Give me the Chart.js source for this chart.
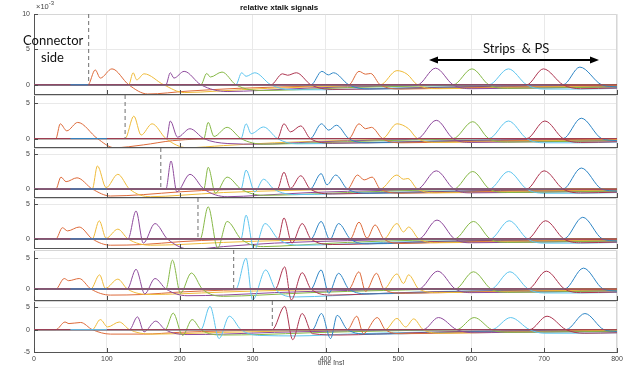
<!DOCTYPE html>
<html>
<head>
<meta charset="utf-8">
<script src="https://cdn.jsdelivr.net/npm/chart.js@4.4.1/dist/chart.umd.min.js"></script>
<style>
  body { margin: 0; background: #fff; }
  #wrap { position: relative; width: 625px; height: 365px; overflow: hidden; font-family: "Liberation Sans", Arial, sans-serif; }
  canvas.p { position: absolute; left: 0; }
  .lbl { position: absolute; white-space: pre; color: #222; }
  #title { left: 240px; top: 3px; font-size: 8px; font-weight: bold; color: #111; }
  #exp { left: 36px; top: 0px; font-size: 7.5px; color: #444; }
  #exp sup { font-size: 6px; }
  .note { font-family: Lato, "Open Sans", sans-serif; font-size: 13px; color: #111; }
  #xname { left: 318px; top: 359px; font-size: 7px; color: #444; }
  svg { position: absolute; left: 0; top: 0; }
</style>
</head>
<body>
<div id="wrap">
  <canvas class="p" id="p1"></canvas>
  <canvas class="p" id="p2"></canvas>
  <canvas class="p" id="p3"></canvas>
  <canvas class="p" id="p4"></canvas>
  <canvas class="p" id="p5"></canvas>
  <canvas class="p" id="p6"></canvas>
  <div class="lbl" id="title">relative xtalk signals</div>
  <div class="lbl" id="exp">&times;10<sup>-3</sup></div>
  <div class="lbl note" style="left:23px;top:32px;">Connector</div>
  <div class="lbl note" style="left:41px;top:49px;">side</div>
  <div class="lbl note" style="left:483px;top:40px;">Strips  &amp; PS</div>
  <div class="lbl" id="xname">time [ns]</div>
  <svg width="625" height="365">
    <line x1="436" y1="60" x2="592" y2="60" stroke="#000" stroke-width="2"/>
    <polygon points="429,60 438,56.5 438,63.5" fill="#000"/>
    <polygon points="599,60 590,56.5 590,63.5" fill="#000"/>
  </svg>
</div>
<script>
// tick values
const xTicks = [0, 100, 200, 300, 400, 500, 600, 700, 800];
const yTicks = [[0, 5, 10], [0, 5], [0, 5], [0, 5], [0, 5], [-5, 0, 5]];

// where the driven channel sits in each panel (dashed marker)
const driverX = [75, 125, 174, 225, 274, 327];
// short stretch of the flat trace visible on the zero line
const flatSeg = [[50, 74], [50, 100], [50, 100], [50, 100], [50, 100], [50, 100]];

// trace order: orange, yellow, purple, green, cyan, red, blue, orange, yellow, purple, green, cyan, red, blue
const seriesColors = ['#dd6a3a', '#efbb3a', '#8e4a9c', '#86b846', '#5ec5ef', '#ad3550', '#2f86c6',
                      '#dd6a3a', '#efbb3a', '#8e4a9c', '#86b846', '#5ec5ef', '#ad3550', '#2f86c6'];

const panel1 = [
  [[0,0],[74,0],[84,2.1],[91,0.95],[107,2.25],[130,0],[156,-1.3],[210,-0.9],[280,-0.5],[380,-0.2],[500,0],[800,0]],
  [[0,0],[130,0],[136,1.7],[141,0.7],[151,1.55],[178,0],[206,-1.1],[250,-0.9],[320,-0.5],[430,-0.2],[560,0],[800,0]],
  [[0,0],[181,0],[187,1.7],[192,0.95],[206,1.9],[229,0],[265,-0.95],[310,-0.8],[380,-0.45],[480,-0.2],[600,0],[800,0]],
  [[0,0],[229,0],[237,1.6],[242,1.1],[258,1.8],[277,0],[315,-0.8],[360,-0.7],[430,-0.4],[520,-0.2],[650,0],[800,0]],
  [[0,0],[277,0],[285,1.7],[291,1.2],[303,1.7],[325,0],[355,-0.7],[400,-0.7],[470,-0.5],[560,-0.3],[700,-0.1],[800,-0.1]],
  [[0,0],[325,0],[341,1.55],[348,1.35],[360,1.7],[380,0],[410,-0.65],[460,-0.6],[540,-0.4],[640,-0.2],[800,-0.1]],
  [[0,0],[380,0],[395,1.9],[404,1.4],[411,1.7],[432,0],[460,-0.6],[510,-0.55],[600,-0.35],[800,-0.2]],
  [[0,0],[432,0],[446,1.9],[455,1.5],[462,1.6],[475,0],[505,-0.6],[560,-0.5],[650,-0.3],[800,-0.15]],
  [[0,0],[475,0],[498,2.0],[512,1.5],[526,0],[555,-0.55],[600,-0.5],[700,-0.3],[800,-0.2]],
  [[0,0],[526,0],[551,2.35],[575,0],[600,-0.55],[650,-0.5],[800,-0.3]],
  [[0,0],[575,0],[601,2.25],[624,0],[650,-0.5],[700,-0.45],[800,-0.3]],
  [[0,0],[624,0],[651,2.25],[676,0],[700,-0.6],[750,-0.6],[800,-0.5]],
  [[0,0],[676,0],[699,2.25],[726,0],[750,-0.55],[800,-0.45]],
  [[0,0],[726,0],[749,2.5],[779,0],[800,-0.3]]
];

const panel2 = [
  [[0,0],[30,0],[36,2.1],[45,1.1],[60,2.3],[87,0],[110,-1.3],[150,-0.9],[190,-0.3],[260,0],[800,0]],
  [[0,0],[125,0],[137,3.2],[147,0.5],[162,2.1],[181,0],[210,-1.3],[260,-1.0],[330,-0.6],[430,-0.25],[560,0],[800,0]],
  [[0,0],[182,0],[187,2.5],[197,0.2],[214,1.4],[233,0],[265,-0.7],[310,-0.8],[380,-0.5],[480,-0.2],[600,0],[800,0]],
  [[0,0],[233,0],[239,2.3],[247,0.3],[265,1.6],[284,0],[315,-0.8],[360,-0.7],[430,-0.45],[520,-0.2],[650,0],[800,0]],
  [[0,0],[284,0],[291,2.1],[298,0.7],[315,1.65],[334,0],[360,-0.75],[410,-0.7],[480,-0.5],[560,-0.3],[700,-0.1],[800,-0.1]],
  [[0,0],[334,0],[343,2.1],[352,0.95],[366,1.8],[379,0],[410,-0.65],[460,-0.6],[540,-0.4],[640,-0.2],[800,-0.1]],
  [[0,0],[379,0],[394.5,2.1],[404.5,1.2],[415,1.9],[432,0],[460,-0.6],[510,-0.55],[600,-0.35],[800,-0.2]],
  [[0,0],[432,0],[446,2.1],[455,1.4],[463,1.6],[478,0],[505,-0.6],[560,-0.5],[650,-0.3],[800,-0.15]],
  [[0,0],[478,0],[498,2.1],[514,1.4],[526,0],[555,-0.55],[600,-0.5],[700,-0.3],[800,-0.2]],
  [[0,0],[526,0],[552,2.6],[575,0],[600,-0.55],[650,-0.5],[800,-0.3]],
  [[0,0],[575,0],[602,2.4],[624,0],[650,-0.5],[700,-0.45],[800,-0.3]],
  [[0,0],[624,0],[651,2.5],[676,0],[700,-0.6],[750,-0.6],[800,-0.5]],
  [[0,0],[676,0],[701,2.5],[726,0],[750,-0.55],[800,-0.45]],
  [[0,0],[726,0],[751,2.9],[779,0],[800,-0.3]]
];

const panel3 = [
  [[0,0],[30,0],[37,1.7],[44,1.05],[59,1.6],[80,0],[105,-1.0],[150,-0.8],[200,-0.4],[260,-0.1],[350,0],[800,0]],
  [[0,0],[80,0],[87,3.3],[99,0.2],[115,2.1],[131,0],[160,-1.1],[200,-0.9],[260,-0.5],[350,-0.2],[480,0],[800,0]],
  [[0,0],[181,0],[188,4.0],[196,-0.4],[214,2.1],[233,0],[265,-1.1],[310,-0.9],[380,-0.5],[480,-0.2],[600,0],[800,0]],
  [[0,0],[233,0],[239,3.1],[249,-0.6],[265,1.7],[284,0],[315,-0.9],[360,-0.8],[430,-0.5],[520,-0.2],[650,0],[800,0]],
  [[0,0],[284,0],[291,2.7],[303,-0.4],[315,1.4],[329,0],[360,-0.8],[410,-0.7],[480,-0.5],[560,-0.3],[700,-0.1],[800,-0.1]],
  [[0,0],[334,0],[343,2.4],[352,0.1],[366,1.9],[379,0],[410,-0.7],[460,-0.6],[540,-0.4],[640,-0.2],[800,-0.1]],
  [[0,0],[379,0],[394,2.2],[402,0.6],[414,2.0],[430,0],[460,-0.6],[510,-0.55],[600,-0.35],[800,-0.2]],
  [[0,0],[430,0],[444,2.0],[453,1.3],[464,1.7],[475,0],[505,-0.6],[560,-0.5],[650,-0.3],[800,-0.15]],
  [[0,0],[475,0],[498,2.0],[507,1.4],[513,1.5],[526,0],[555,-0.55],[600,-0.5],[700,-0.3],[800,-0.2]],
  [[0,0],[526,0],[552,2.6],[576,0],[600,-0.55],[650,-0.5],[800,-0.3]],
  [[0,0],[576,0],[602,2.5],[625,0],[650,-0.5],[700,-0.45],[800,-0.3]],
  [[0,0],[625,0],[651,2.5],[676,0],[700,-0.6],[750,-0.6],[800,-0.5]],
  [[0,0],[676,0],[700,2.6],[726,0],[750,-0.55],[800,-0.45]],
  [[0,0],[726,0],[751,3.0],[779,0],[800,-0.3]]
];

const panel4 = [
  [[0,0],[30,0],[39,1.6],[46,1.15],[62,1.7],[80,0],[105,-0.9],[150,-0.8],[200,-0.4],[260,-0.1],[350,0],[800,0]],
  [[0,0],[80,0],[89.5,2.6],[99,0.1],[115,1.4],[129,0],[160,-0.9],[200,-0.8],[260,-0.5],[350,-0.2],[480,0],[800,0]],
  [[0,0],[129,0],[140,4.0],[150,-0.6],[166,2.2],[183,0],[215,-1.5],[260,-1.1],[330,-0.6],[430,-0.25],[560,0],[800,0]],
  [[0,0],[228,0],[239,4.6],[252,-1.3],[265,2.5],[284,0],[315,-1.1],[360,-0.9],[430,-0.5],[520,-0.2],[650,0],[800,0]],
  [[0,0],[284,0],[291,3.4],[302,-1.6],[317,2.2],[335,0],[365,-0.9],[410,-0.8],[480,-0.5],[560,-0.3],[700,-0.1],[800,-0.1]],
  [[0,0],[335,0],[343,3.0],[354,-0.6],[368,2.2],[380,0],[410,-0.8],[460,-0.7],[540,-0.4],[640,-0.2],[800,-0.1]],
  [[0,0],[380,0],[394,2.5],[406,-0.1],[418,2.2],[434,0],[460,-0.7],[510,-0.6],[600,-0.35],[800,-0.2]],
  [[0,0],[434,0],[446,2.4],[457,0.1],[468,2.0],[480,0],[505,-0.65],[560,-0.5],[650,-0.3],[800,-0.15]],
  [[0,0],[480,0],[498,2.2],[507,1.0],[514,1.7],[528,0],[555,-0.55],[600,-0.5],[700,-0.3],[800,-0.2]],
  [[0,0],[528,0],[553,2.7],[577,0],[600,-0.55],[650,-0.5],[800,-0.3]],
  [[0,0],[577,0],[603,2.5],[626,0],[650,-0.5],[700,-0.45],[800,-0.3]],
  [[0,0],[626,0],[652,2.6],[677,0],[700,-0.6],[750,-0.6],[800,-0.5]],
  [[0,0],[677,0],[702,2.6],[727,0],[750,-0.55],[800,-0.45]],
  [[0,0],[727,0],[753,3.1],[780,0],[800,-0.3]]
];

const panel5 = [
  [[0,0],[30,0],[41.5,1.7],[47.5,1.35],[62,1.7],[78,0],[105,-1.0],[150,-0.9],[200,-0.5],[260,-0.2],[350,0],[800,0]],
  [[0,0],[78,0],[90,2.3],[98,0.1],[115,1.6],[128,0],[160,-0.9],[200,-0.8],[260,-0.5],[350,-0.2],[480,0],[800,0]],
  [[0,0],[128,0],[140,3.2],[152,-0.8],[166,1.7],[181,0],[210,-1.1],[260,-1.0],[330,-0.6],[430,-0.25],[560,0],[800,0]],
  [[0,0],[181,0],[190,4.7],[201,-0.7],[216,2.6],[231,0],[260,-1.2],[310,-1.0],[380,-0.6],[480,-0.25],[600,0],[800,0]],
  [[0,0],[277,0],[291,5.0],[300,-1.8],[318,3.1],[331,0],[360,-1.3],[410,-1.1],[480,-0.7],[560,-0.4],[700,-0.2],[800,-0.2]],
  [[0,0],[331,0],[344,3.6],[353,-1.8],[368,2.65],[380,0],[410,-1.0],[460,-0.8],[540,-0.5],[640,-0.3],[800,-0.1]],
  [[0,0],[380,0],[394,3.1],[404.5,-0.7],[418,2.55],[432,0],[460,-0.8],[510,-0.7],[600,-0.4],[800,-0.2]],
  [[0,0],[432,0],[446,2.8],[455,-0.4],[470,2.55],[480,0],[505,-0.7],[560,-0.6],[650,-0.35],[800,-0.15]],
  [[0,0],[480,0],[498,2.45],[507,0.9],[514,2.3],[528,0],[555,-0.6],[600,-0.55],[700,-0.3],[800,-0.2]],
  [[0,0],[528,0],[554,2.9],[578,0],[600,-0.6],[650,-0.55],[800,-0.3]],
  [[0,0],[578,0],[603,2.8],[627,0],[650,-0.55],[700,-0.5],[800,-0.3]],
  [[0,0],[627,0],[653,2.8],[678,0],[700,-0.65],[750,-0.65],[800,-0.55]],
  [[0,0],[678,0],[703,2.9],[728,0],[750,-0.6],[800,-0.5]],
  [[0,0],[728,0],[754,3.4],[781,0],[800,-0.35]]
];

const panel6 = [
  [[0,0],[30,0],[42.5,1.7],[48,1.35],[64,1.6],[80,0],[105,-1.0],[150,-1.0],[200,-0.6],[260,-0.3],[350,0],[800,0]],
  [[0,0],[80,0],[91,2.25],[101,0.6],[117,1.7],[131,0],[160,-1.0],[200,-0.9],[260,-0.6],[350,-0.3],[480,0],[800,0]],
  [[0,0],[131,0],[142,2.85],[151,-0.5],[167,1.9],[180,0],[210,-1.1],[260,-1.0],[330,-0.6],[430,-0.3],[560,0],[800,0]],
  [[0,0],[180,0],[191,3.7],[204,-1.3],[217,2.25],[229,0],[260,-1.2],[310,-1.1],[380,-0.7],[480,-0.3],[600,0],[800,0]],
  [[0,0],[229,0],[241.5,5.2],[254,-2.0],[268,3.0],[284,0],[310,-1.3],[360,-1.4],[430,-1.0],[520,-0.6],[650,-0.3],[800,-0.2]],
  [[0,0],[327,0],[344,5.2],[355,-2.25],[368,3.6],[382,-0.9],[420,-1.2],[470,-1.0],[540,-0.6],[640,-0.3],[800,-0.2]],
  [[0,0],[382,0],[394.5,3.6],[407,-2.0],[416,3.2],[430,0],[460,-1.0],[510,-0.9],[600,-0.5],[800,-0.3]],
  [[0,0],[430,0],[443,3.0],[452,-0.9],[471,2.7],[482,0],[505,-0.9],[560,-0.8],[650,-0.5],[800,-0.2]],
  [[0,0],[482,0],[498,2.5],[510,0.6],[521,2.4],[534,0],[560,-0.8],[610,-0.7],[700,-0.4],[800,-0.2]],
  [[0,0],[534,0],[555,2.7],[580,0],[605,-0.7],[650,-0.6],[800,-0.4]],
  [[0,0],[580,0],[604,2.7],[628,0],[650,-0.6],[700,-0.55],[800,-0.35]],
  [[0,0],[628,0],[654,2.7],[680,0],[700,-0.8],[750,-0.8],[800,-0.7]],
  [[0,0],[680,0],[704,3.0],[730,0],[755,-0.8],[800,-0.7]],
  [[0,0],[730,0],[756,3.6],[782,0],[800,-0.4]]
];

const panels = [panel1, panel2, panel3, panel4, panel5, panel6];

// layout of each subplot on the page (pixel box + axis range)
const boxes = [
  { top: 14,  bottom: 94,  min: -1.3, max: 10 },
  { top: 95,  bottom: 147, min: -1.2, max: 6.2 },
  { top: 148, bottom: 197, min: -1.14, max: 5.86 },
  { top: 198, bottom: 248, min: -1.3, max: 5.86 },
  { top: 250, bottom: 300, min: -1.8, max: 6.35 },
  { top: 301, bottom: 352, min: -5, max: 6.4 }
];

Chart.defaults.font.family = '"Liberation Sans", Arial, sans-serif';

// light box on top/right, inward tick marks like the original figure
const frameTicks = {
  id: 'frameTicks',
  beforeDatasetsDraw(chart) {
    const { ctx, chartArea: a } = chart;
    ctx.save();
    ctx.strokeStyle = '#d6d6d6';
    ctx.lineWidth = 1;
    ctx.beginPath();
    ctx.moveTo(a.left, a.top + 0.5);
    ctx.lineTo(a.right - 0.5, a.top + 0.5);
    ctx.lineTo(a.right - 0.5, a.bottom);
    ctx.stroke();
    ctx.restore();
  },
  afterDatasetsDraw(chart) {
    const { ctx, chartArea: a, scales } = chart;
    ctx.save();
    ctx.strokeStyle = '#4d4d4d';
    ctx.lineWidth = 1;
    ctx.beginPath();
    scales.x.ticks.forEach(t => {
      const px = Math.round(scales.x.getPixelForValue(t.value)) + 0.5;
      ctx.moveTo(px, a.bottom);
      ctx.lineTo(px, a.bottom - 4);
    });
    scales.y.ticks.forEach(t => {
      const py = Math.round(scales.y.getPixelForValue(t.value)) + 0.5;
      ctx.moveTo(a.left, py);
      ctx.lineTo(a.left + 4, py);
    });
    ctx.stroke();
    ctx.restore();
  }
};

function toXY(pts) {
  return pts.map(p => ({ x: p[0], y: p[1] }));
}

function makePanel(i) {
  const box = boxes[i];
  const last = i === panels.length - 1;
  const padTop = 6;
  const xh = last ? 13 : 2;
  const cv = document.getElementById('p' + (i + 1));
  cv.width = 625;
  cv.height = box.bottom - box.top + padTop + xh;
  cv.style.top = (box.top - padTop) + 'px';

  const datasets = panels[i].map((pts, k) => ({
    data: toXY(pts),
    borderColor: seriesColors[k],
    borderWidth: 1,
    pointRadius: 0,
    cubicInterpolationMode: 'monotone',
    order: -k
  }));
  // zero line of the quiet channels
  datasets.push({ data: toXY([[0, 0], [800, 0]]), borderColor: '#a8394a', borderWidth: 1, pointRadius: 0, order: -20 });
  datasets.push({ data: toXY([[flatSeg[i][0], 0], [flatSeg[i][1], 0]]), borderColor: last ? '#5ec5ef' : '#2f86c6', borderWidth: 1, pointRadius: 0, order: -21 });
  // dashed marker of the driven channel
  datasets.push({ data: toXY([[driverX[i], box.max], [driverX[i], 0]]), borderColor: '#707070', borderWidth: 1, borderDash: [4, 3], pointRadius: 0, order: -22 });

  new Chart(cv, {
    type: 'line',
    data: { datasets: datasets },
    options: {
      responsive: false,
      animation: false,
      events: [],
      layout: { autoPadding: false, padding: { left: 0, right: 8, top: padTop, bottom: 0 } },
      plugins: { legend: { display: false }, tooltip: { enabled: false } },
      scales: {
        x: {
          type: 'linear', min: 0, max: 800,
          afterBuildTicks: s => { s.ticks = xTicks.map(v => ({ value: v })); },
          afterFit: s => { s.height = xh; s.paddingLeft = 0; s.paddingRight = 0; },
          grid: { color: '#e9e9e9', drawTicks: false },
          border: { color: '#555', width: 1 },
          ticks: { display: last, color: '#444', font: { size: 7 }, padding: 3, maxRotation: 0 }
        },
        y: {
          type: 'linear', min: box.min, max: box.max,
          afterBuildTicks: s => { s.ticks = yTicks[i].map(v => ({ value: v })); },
          afterFit: s => { s.width = 34; s.paddingTop = 0; s.paddingBottom = 0; },
          grid: { color: '#e9e9e9', drawTicks: false },
          border: { color: '#555', width: 1 },
          ticks: { color: '#444', font: { size: 7 }, padding: 4 }
        }
      }
    },
    plugins: [frameTicks]
  });
}

for (let i = 0; i < panels.length; i++) makePanel(i);
</script>
</body>
</html>
